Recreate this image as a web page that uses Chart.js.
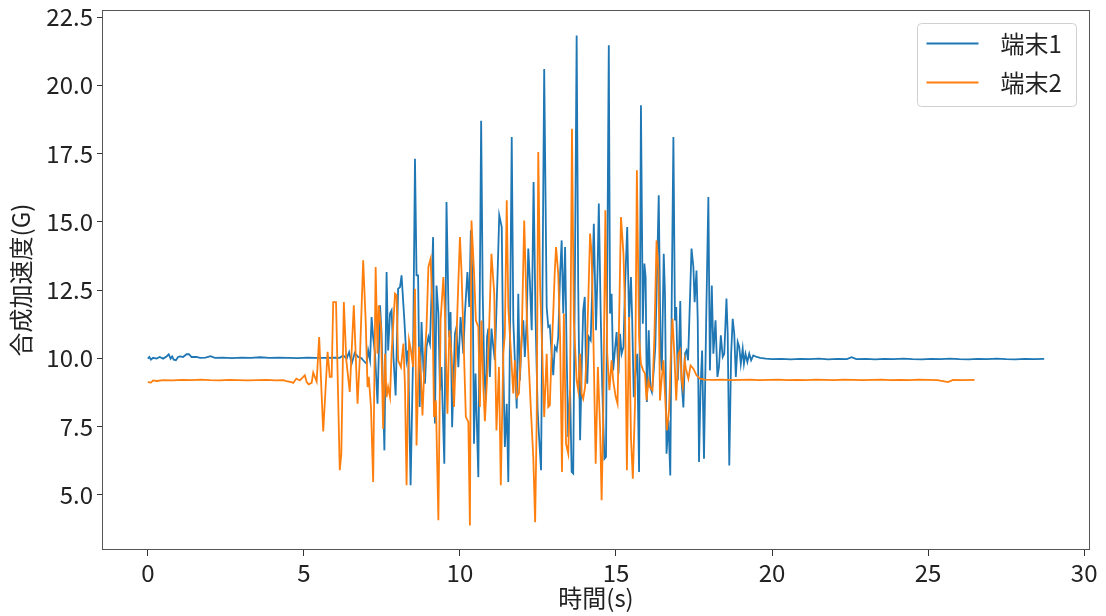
<!DOCTYPE html>
<html>
<head>
<meta charset="utf-8">
<script src="https://cdn.jsdelivr.net/npm/chart.js@4.4.1/dist/chart.umd.min.js"></script>
<style>
    html, body { margin: 0; padding: 0; background: #fff; }
    #wrap { width: 1106px; height: 616px; }
</style>
</head>
<body>
<div id="wrap"><canvas id="accChart" width="1106" height="616"></canvas></div>
<script>
// 系列名と目盛り
const seriesNames = ['端末1', '端末2'];
const xTicks = [0, 5, 10, 15, 20, 25, 30];
const yTicks = [5.0, 7.5, 10.0, 12.5, 15.0, 17.5, 20.0, 22.5];

// 端末1: [時間(s), 合成加速度(G)]
const device1 = [
    [0.00, 9.99], [0.05, 10.05], [0.10, 9.95], [0.17, 10.02], [0.28, 9.99], [0.38, 10.05],
    [0.49, 9.99], [0.60, 10.07], [0.67, 10.15], [0.73, 9.99], [0.78, 10.07], [0.83, 9.95],
    [0.90, 9.93], [0.97, 10.05], [1.03, 10.07], [1.13, 10.05], [1.24, 10.15], [1.32, 10.15],
    [1.40, 10.05], [1.56, 10.05], [1.67, 10.02], [1.85, 10.03], [2.01, 10.08], [2.15, 10.02],
    [2.40, 10.03], [2.70, 10.01], [3.00, 10.03], [3.30, 10.02], [3.60, 10.04], [3.90, 10.02],
    [4.20, 10.03], [4.50, 10.02], [4.80, 10.01], [5.10, 10.03], [5.40, 10.02], [5.70, 10.02],
    [6.00, 10.03], [6.15, 10.02], [6.26, 10.11], [6.37, 9.99], [6.45, 10.23], [6.53, 9.80],
    [6.63, 10.20], [6.74, 10.05], [6.85, 10.00], [6.90, 9.93], [7.01, 9.80], [7.06, 10.29],
    [7.12, 9.93], [7.17, 11.51], [7.22, 10.78], [7.28, 10.17], [7.36, 8.34], [7.44, 11.94],
    [7.49, 10.90], [7.58, 6.63], [7.65, 13.16], [7.70, 10.29], [7.76, 11.64], [7.81, 11.76],
    [7.87, 10.05], [7.94, 8.64], [8.02, 12.55], [8.08, 12.61], [8.13, 13.04], [8.22, 11.39],
    [8.29, 9.93], [8.34, 10.29], [8.42, 5.35], [8.50, 10.17], [8.56, 17.31], [8.61, 13.04],
    [8.66, 13.04], [8.71, 8.22], [8.77, 11.33], [8.83, 9.60], [8.88, 9.07], [8.93, 10.42],
    [8.99, 10.78], [9.04, 10.54], [9.09, 12.37], [9.14, 14.44], [9.20, 7.61], [9.25, 12.67],
    [9.31, 11.64], [9.36, 8.83], [9.41, 9.68], [9.50, 6.14], [9.57, 15.73], [9.65, 10.78],
    [9.70, 11.70], [9.75, 7.48], [9.84, 10.90], [9.89, 11.15], [9.95, 9.68], [10.02, 11.51],
    [10.11, 10.17], [10.16, 11.64], [10.24, 13.16], [10.30, 11.88], [10.35, 14.69], [10.41, 12.61],
    [10.45, 6.87], [10.50, 9.44], [10.59, 5.65], [10.68, 18.70], [10.73, 12.37], [10.78, 9.44],
    [10.83, 8.47], [10.87, 10.78], [10.91, 11.09], [10.96, 9.32], [11.01, 11.09], [11.07, 10.42],
    [11.12, 9.93], [11.21, 13.22], [11.26, 15.24], [11.34, 14.81], [11.39, 9.68], [11.44, 6.75],
    [11.50, 8.34], [11.55, 5.47], [11.60, 10.42], [11.66, 18.11], [11.71, 11.39], [11.76, 9.93],
    [11.82, 8.16], [11.87, 12.37], [11.92, 9.19], [11.98, 10.78], [12.03, 11.39], [12.08, 10.05],
    [12.14, 11.39], [12.19, 14.02], [12.24, 12.86], [12.30, 11.03], [12.36, 16.46], [12.42, 11.64],
    [12.49, 8.10], [12.53, 7.24], [12.60, 5.90], [12.70, 20.60], [12.78, 11.88], [12.83, 11.15],
    [12.88, 11.20], [12.94, 10.17], [12.99, 9.38], [13.04, 10.42], [13.10, 10.29], [13.15, 10.78],
    [13.21, 13.10], [13.26, 14.32], [13.31, 11.64], [13.37, 14.08], [13.42, 10.17], [13.47, 7.12],
    [13.53, 8.83], [13.58, 5.84], [13.63, 5.78], [13.69, 13.83], [13.74, 21.83], [13.79, 12.61],
    [13.85, 7.00], [13.90, 9.56], [13.95, 11.76], [14.00, 12.25], [14.04, 9.56], [14.08, 9.07],
    [14.13, 10.78], [14.19, 10.66], [14.24, 12.61], [14.29, 14.93], [14.36, 11.03], [14.41, 13.22],
    [14.45, 15.67], [14.51, 11.64], [14.56, 8.95], [14.63, 6.32], [14.68, 6.39], [14.77, 21.47],
    [14.81, 11.64], [14.86, 12.37], [14.91, 9.56], [14.97, 10.35], [15.02, 10.96], [15.08, 9.44],
    [15.13, 10.90], [15.18, 10.17], [15.24, 10.42], [15.29, 12.61], [15.36, 14.81], [15.42, 11.39],
    [15.48, 12.98], [15.52, 11.39], [15.57, 8.58], [15.63, 9.56], [15.68, 10.17], [15.74, 5.84],
    [15.80, 19.27], [15.86, 11.27], [15.91, 13.47], [15.95, 12.98], [15.99, 8.40], [16.05, 11.03],
    [16.10, 8.95], [16.15, 8.77], [16.21, 9.56], [16.26, 10.42], [16.31, 12.86], [16.37, 15.97],
    [16.43, 10.17], [16.47, 9.56], [16.53, 13.83], [16.57, 12.37], [16.62, 6.51], [16.68, 7.73],
    [16.74, 5.71], [16.79, 12.61], [16.84, 18.11], [16.89, 11.39], [16.93, 11.88], [16.98, 9.19],
    [17.02, 10.29], [17.06, 12.10], [17.10, 9.20], [17.16, 8.20], [17.21, 10.17], [17.26, 10.29],
    [17.31, 9.93], [17.35, 11.39], [17.42, 14.02], [17.48, 13.35], [17.52, 12.06], [17.58, 13.22],
    [17.62, 11.39], [17.66, 6.20], [17.71, 8.95], [17.76, 10.29], [17.82, 6.32], [17.89, 11.39],
    [17.96, 15.91], [18.01, 9.56], [18.07, 12.67], [18.12, 10.17], [18.19, 11.39], [18.25, 9.32],
    [18.30, 9.68], [18.36, 10.84], [18.42, 10.05], [18.47, 10.17], [18.54, 12.19], [18.58, 10.90],
    [18.63, 6.08], [18.69, 10.17], [18.74, 11.45], [18.79, 10.90], [18.84, 9.32], [18.90, 10.60],
    [18.95, 10.42], [19.00, 9.80], [19.06, 10.35], [19.10, 9.80], [19.15, 10.17], [19.21, 9.87],
    [19.27, 10.17], [19.33, 9.93], [19.40, 10.11], [19.51, 10.05], [19.62, 10.02], [19.80, 9.99],
    [20.00, 9.97], [20.30, 9.98], [20.60, 9.96], [20.90, 9.98], [21.20, 9.97], [21.50, 9.99],
    [21.80, 9.96], [22.10, 9.98], [22.40, 9.97], [22.55, 10.04], [22.70, 9.97], [23.00, 9.98],
    [23.30, 9.96], [23.60, 9.98], [23.90, 9.97], [24.20, 9.99], [24.50, 9.97], [24.80, 9.96],
    [25.10, 9.98], [25.40, 9.97], [25.70, 9.99], [26.00, 9.97], [26.30, 9.96], [26.60, 9.98],
    [26.90, 9.97], [27.20, 9.99], [27.50, 9.97], [27.80, 9.96], [28.10, 9.98], [28.40, 9.97],
    [28.72, 9.98]
];

// 端末2: [時間(s), 合成加速度(G)]
const device2 = [
    [0.00, 9.13], [0.10, 9.11], [0.17, 9.19], [0.28, 9.17], [0.50, 9.20], [0.80, 9.19],
    [1.10, 9.21], [1.40, 9.20], [1.70, 9.22], [2.00, 9.20], [2.30, 9.19], [2.60, 9.21],
    [2.90, 9.20], [3.20, 9.19], [3.50, 9.20], [3.80, 9.21], [4.10, 9.19], [4.34, 9.20],
    [4.44, 9.17], [4.60, 9.13], [4.66, 9.10], [4.76, 9.26], [4.87, 9.19], [4.98, 9.32],
    [5.03, 9.38], [5.09, 9.13], [5.15, 9.05], [5.25, 9.10], [5.30, 9.48], [5.36, 9.30],
    [5.41, 9.15], [5.49, 10.78], [5.62, 7.32], [5.76, 10.24], [5.83, 9.32], [5.89, 9.32],
    [5.94, 12.06], [6.03, 12.06], [6.15, 5.90], [6.20, 6.51], [6.28, 12.06], [6.36, 9.93],
    [6.47, 8.77], [6.60, 11.94], [6.72, 8.34], [6.80, 10.17], [6.90, 13.59], [6.98, 11.39],
    [7.04, 8.95], [7.08, 9.32], [7.15, 8.22], [7.22, 5.47], [7.30, 13.35], [7.36, 10.17],
    [7.40, 11.94], [7.47, 11.15], [7.54, 7.42], [7.60, 10.17], [7.65, 8.58], [7.70, 8.95],
    [7.76, 8.58], [7.81, 10.17], [7.92, 12.37], [7.97, 12.31], [8.02, 9.93], [8.11, 9.68],
    [8.19, 10.54], [8.24, 8.95], [8.29, 5.35], [8.37, 10.66], [8.43, 10.29], [8.50, 9.68],
    [8.56, 12.55], [8.61, 6.81], [8.69, 10.42], [8.75, 9.40], [8.80, 7.91], [8.88, 10.17],
    [8.93, 11.15], [8.99, 13.35], [9.06, 13.65], [9.12, 11.88], [9.17, 7.85], [9.23, 8.46],
    [9.31, 4.07], [9.38, 11.39], [9.47, 12.98], [9.52, 11.64], [9.60, 7.97], [9.66, 11.03],
    [9.73, 10.17], [9.81, 8.22], [9.89, 10.78], [10.00, 14.44], [10.05, 13.22], [10.13, 10.17],
    [10.19, 7.85], [10.27, 7.67], [10.32, 3.88], [10.37, 15.05], [10.45, 13.22], [10.51, 11.39],
    [10.59, 11.15], [10.64, 8.22], [10.69, 11.39], [10.75, 8.95], [10.80, 7.70], [10.91, 10.17],
    [11.01, 13.83], [11.10, 12.37], [11.17, 7.36], [11.25, 9.68], [11.31, 5.35], [11.39, 10.17],
    [11.44, 10.90], [11.50, 15.79], [11.55, 11.88], [11.63, 10.29], [11.71, 8.71], [11.76, 9.93],
    [11.82, 8.58], [11.89, 8.71], [11.98, 10.78], [12.06, 15.05], [12.14, 11.64], [12.19, 10.17],
    [12.28, 7.97], [12.35, 6.39], [12.41, 4.00], [12.46, 7.73], [12.51, 17.56], [12.57, 12.61],
    [12.64, 10.17], [12.70, 7.85], [12.78, 10.17], [12.83, 8.22], [12.88, 8.28], [12.94, 10.29],
    [12.99, 11.64], [13.04, 13.20], [13.08, 14.08], [13.15, 13.10], [13.21, 10.78], [13.27, 5.84],
    [13.33, 11.64], [13.40, 6.87], [13.47, 6.51], [13.53, 8.95], [13.59, 18.41], [13.65, 11.39],
    [13.74, 9.19], [13.79, 8.83], [13.85, 10.17], [13.90, 8.71], [13.95, 8.52], [14.01, 8.95],
    [14.06, 10.17], [14.11, 12.00], [14.17, 14.57], [14.22, 13.83], [14.27, 11.15], [14.35, 6.14],
    [14.42, 9.68], [14.49, 7.48], [14.54, 4.80], [14.59, 7.73], [14.66, 15.42], [14.72, 10.17],
    [14.79, 8.83], [14.86, 9.93], [14.91, 9.19], [14.99, 8.60], [15.05, 8.34], [15.10, 11.39],
    [15.16, 15.18], [15.24, 13.83], [15.29, 11.76], [15.35, 5.90], [15.42, 11.51], [15.48, 7.12],
    [15.54, 5.59], [15.61, 8.34], [15.67, 16.89], [15.74, 10.78], [15.80, 9.80], [15.87, 9.56],
    [15.93, 9.44], [15.98, 8.46], [16.04, 9.19], [16.09, 8.95], [16.17, 8.83], [16.23, 10.78],
    [16.30, 14.32], [16.36, 13.22], [16.41, 8.46], [16.46, 9.19], [16.52, 9.93], [16.57, 8.71],
    [16.63, 7.36], [16.70, 8.10], [16.76, 10.17], [16.81, 11.45], [16.87, 10.17], [16.93, 8.46],
    [17.00, 10.17], [17.06, 10.30], [17.10, 9.26], [17.14, 8.95], [17.20, 9.93], [17.24, 9.62],
    [17.32, 9.26], [17.39, 9.74], [17.48, 9.62], [17.58, 9.38], [17.69, 9.26], [17.85, 9.22],
    [18.10, 9.21], [18.40, 9.22], [18.70, 9.20], [19.00, 9.21], [19.30, 9.22], [19.60, 9.20],
    [19.90, 9.21], [20.20, 9.22], [20.50, 9.20], [20.80, 9.21], [21.10, 9.20], [21.40, 9.22],
    [21.70, 9.21], [22.00, 9.20], [22.30, 9.22], [22.60, 9.21], [22.90, 9.20], [23.20, 9.21],
    [23.50, 9.22], [23.80, 9.20], [24.10, 9.21], [24.40, 9.20], [24.70, 9.22], [25.00, 9.21],
    [25.30, 9.20], [25.64, 9.13], [25.80, 9.21], [26.10, 9.20], [26.49, 9.21]
];

const FONT = "'Noto Sans CJK JP', 'Noto Sans', sans-serif";
Chart.defaults.font.family = FONT;
Chart.defaults.color = '#222';

// 枠線と凡例 (matplotlib風)
const frameLegend = {
    id: 'frameLegend',
    afterDatasetsDraw(chart) {
        const { ctx, chartArea: a } = chart;
        ctx.save();
        ctx.strokeStyle = '#555';
        ctx.lineWidth = 1;
        ctx.strokeRect(Math.round(a.left) - 0.5, Math.round(a.top) + 0.5,
            Math.round(a.right - a.left) + 1, Math.round(a.bottom - a.top) - 1);

        const w = 159, h = 83, r = 4;
        const x0 = Math.round(a.right - 13 - w) + 0.5, y0 = Math.round(a.top + 13) + 0.5;
        ctx.beginPath();
        ctx.moveTo(x0 + r, y0);
        ctx.arcTo(x0 + w, y0, x0 + w, y0 + h, r);
        ctx.arcTo(x0 + w, y0 + h, x0, y0 + h, r);
        ctx.arcTo(x0, y0 + h, x0, y0, r);
        ctx.arcTo(x0, y0, x0 + w, y0, r);
        ctx.closePath();
        ctx.fillStyle = 'rgba(255,255,255,0.8)';
        ctx.fill();
        ctx.strokeStyle = '#d0d0d0';
        ctx.stroke();

        ctx.font = '24px ' + FONT;
        ctx.textBaseline = 'middle';
        chart.data.datasets.forEach((ds, i) => {
            const y = y0 + 20 + i * 39;
            ctx.strokeStyle = ds.borderColor;
            ctx.lineWidth = 1.8;
            ctx.beginPath();
            ctx.moveTo(x0 + 9, y);
            ctx.lineTo(x0 + 61, y);
            ctx.stroke();
            ctx.fillStyle = '#222';
            ctx.fillText(ds.label, x0 + 83, y);
        });
        ctx.restore();
    }
};

const ctx = document.getElementById('accChart').getContext('2d');
const accChart = new Chart(ctx, {
    type: 'line',
    data: {
        datasets: [
            {
                label: seriesNames[0],
                data: device1.map(p => ({ x: p[0], y: p[1] })),
                borderColor: '#1f77b4',
                borderWidth: 1.8,
                pointRadius: 0,
                tension: 0,
                order: 2
            },
            {
                label: seriesNames[1],
                data: device2.map(p => ({ x: p[0], y: p[1] })),
                borderColor: '#ff7f0e',
                borderWidth: 1.8,
                pointRadius: 0,
                tension: 0,
                order: 1
            }
        ]
    },
    options: {
        responsive: false,
        animation: false,
        devicePixelRatio: 1,
        layout: { padding: { left: 0, right: 17, top: 10, bottom: 0 } },
        plugins: {
            legend: { display: false },
            tooltip: { enabled: false }
        },
        scales: {
            x: {
                type: 'linear',
                min: -1.436,
                max: 30.156,
                afterBuildTicks: s => { s.ticks = xTicks.map(v => ({ value: v })); },
                afterFit: s => { s.height = 66; },
                ticks: {
                    autoSkip: false,
                    maxRotation: 0,
                    padding: 2,
                    font: { size: 24 },
                    callback: v => String(v)
                },
                grid: { drawOnChartArea: false, tickLength: 6, color: '#333' },
                border: { display: false },
                title: {
                    display: true,
                    text: '時間(s)',
                    font: { size: 24 },
                    padding: { top: 0, bottom: 4 }
                }
            },
            y: {
                type: 'linear',
                min: 2.98,
                max: 22.76,
                afterBuildTicks: s => { s.ticks = yTicks.map(v => ({ value: v })); },
                afterFit: s => { s.width = 103; },
                ticks: {
                    padding: 4,
                    font: { size: 24, lineHeight: 0.4 },
                    callback: v => v.toFixed(1)
                },
                grid: { drawOnChartArea: false, tickLength: 6, color: '#333' },
                border: { display: false },
                title: {
                    display: true,
                    text: '合成加速度(G)',
                    font: { size: 24 },
                    padding: { top: 6, bottom: 0 }
                }
            }
        }
    },
    plugins: [frameLegend]
});
</script>
</body>
</html>
